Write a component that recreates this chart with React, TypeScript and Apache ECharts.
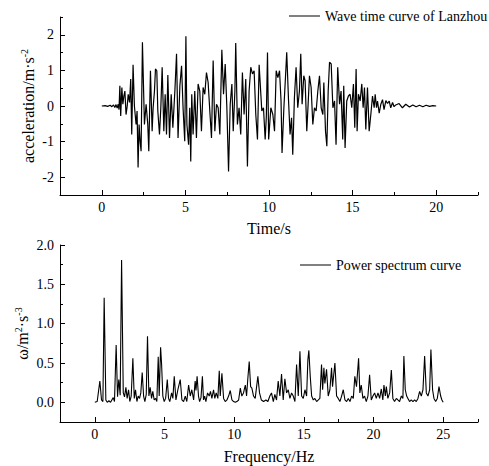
import React, { useEffect, useRef } from "react";
import * as echarts from "echarts";

// ---- Wave time curve (Lanzhou) ----
const waveTime = [
  0.0, 0.2, 0.35, 0.5, 0.6, 0.7, 0.78, 0.85, 0.92, 0.98, 1.03, 1.08, 1.13, 1.2, 1.26, 1.32, 1.38, 1.45, 1.52, 1.58,
  1.66, 1.73, 1.79, 1.87, 1.95, 2.05, 2.11, 2.17, 2.23, 2.29, 2.35, 2.43, 2.55, 2.65, 2.75, 2.81, 2.91, 3.01, 3.07, 3.15,
  3.21, 3.29, 3.35, 3.45, 3.53, 3.61, 3.71, 3.79, 3.87, 3.95, 4.05, 4.15, 4.25, 4.37, 4.47, 4.56, 4.67, 4.77, 4.86, 4.96,
  5.03, 5.09, 5.19, 5.26, 5.32, 5.38, 5.46, 5.56, 5.66, 5.76, 5.86, 5.96, 6.06, 6.16, 6.26, 6.36, 6.46, 6.56, 6.66, 6.76,
  6.86, 6.96, 7.06, 7.18, 7.28, 7.38, 7.48, 7.58, 7.68, 7.78, 7.86, 7.96, 8.01, 8.11, 8.21, 8.31, 8.41, 8.51, 8.61, 8.71,
  8.81, 8.91, 9.01, 9.11, 9.21, 9.31, 9.41, 9.57, 9.67, 9.77, 9.84, 9.91, 9.98, 10.11, 10.23, 10.33, 10.43, 10.53, 10.63, 10.72,
  10.78, 10.89, 10.99, 11.06, 11.17, 11.26, 11.35, 11.42, 11.52, 11.62, 11.72, 11.82, 11.9, 11.98, 12.08, 12.16, 12.26, 12.34, 12.42, 12.52,
  12.62, 12.72, 12.82, 12.92, 13.02, 13.12, 13.22, 13.28, 13.38, 13.46, 13.54, 13.62, 13.72, 13.82, 13.92, 14.01, 14.11, 14.22, 14.31, 14.41,
  14.47, 14.55, 14.65, 14.75, 14.85, 14.95, 15.05, 15.13, 15.21, 15.27, 15.35, 15.45, 15.55, 15.63, 15.71, 15.79, 15.89, 15.99, 16.09, 16.19,
  16.29, 16.35, 16.43, 16.49, 16.59, 16.69, 16.79, 16.88, 16.99, 17.09, 17.19, 17.28, 17.39, 17.48, 17.58, 17.78, 17.98, 18.18, 18.4, 18.6,
  18.8, 19.0, 19.2, 19.4, 19.6, 19.8, 20.0,
];
const waveAccel = [
  0, 0.01, -0.01, 0.02, -0.02, 0.03, -0.04, 0.04, -0.06, 0.05, -0.1, 0.57, -0.28, 0.52, 0.05, 0.28, 0.42, -0.24, 0.0, 0.33,
  0.1, 0.76, -0.8, 1.16, 0.0, -0.52, -0.14, -1.73, -0.52, -0.99, -1.27, 1.79, -0.52, 0.05, -0.52, -1.27, 0.99, -0.71, -0.05, 0.42,
  1.04, 0.99, -0.14, -0.8, -0.05, 1.09, -0.71, 0.33, -0.8, 0.87, -0.9, 0.33, -0.61, 0.42, 1.47, -0.9, 0.57, 1.13, -0.05, -0.99,
  1.96, -0.52, -1.09, -0.05, -1.56, 0.33, -0.8, 0.42, -0.9, 0.62, 0.42, -0.71, 0.52, 0.33, 0.94, 0.66, -0.14, -0.9, 1.28, -0.71,
  0.05, -0.05, -0.8, 1.58, 0.33, 1.18, -0.05, -1.84, 0.05, 0.62, -0.71, 0.42, 1.77, -0.52, -0.05, -0.8, 0.94, -0.24, 0.76, -1.7,
  0.42, 1.09, 0.9, 0.99, -0.24, -0.94, 1.16, -0.14, -0.05, -0.94, -0.3, 1.5, -0.94, -0.05, -0.24, -0.71, 0.99, 0.8, 0.99, 0.14,
  -1.32, -0.05, 0.85, 1.51, 0.14, -0.8, -0.33, -1.37, 0.24, 1.09, -0.05, 0.42, 1.47, 0.05, 0.85, 0.71, -0.71, 0.05, 0.85, 0.52,
  -0.52, -0.05, -0.14, 0.42, 0.85, -0.05, -0.24, 0.66, -0.71, -1.13, 0.42, 1.23, 1.18, -0.05, 0.14, -1.09, 1.09, 0.05, 0.42, -0.94,
  0.57, -1.18, 0.14, 0.28, 0.33, -0.05, 0.62, -0.61, 1.04, -0.71, 0.33, 0.14, 0.62, -0.05, 0.52, -0.66, 0.52, -0.71, -0.24, 0.28,
  -0.05, 0.33, -0.05, 0.14, -0.2, 0.05, 0.18, -0.1, 0.15, 0.07, 0.14, -0.05, 0.1, -0.02, 0.03, 0.07, -0.05, 0.05, -0.03, 0.03,
  -0.02, 0.02, -0.02, 0.02, -0.01, 0.01, 0,
];

// ---- Power spectrum curve ----
const freq = [
  0.0, 0.17, 0.36, 0.48, 0.58, 0.67, 0.79, 0.89, 1.01, 1.13, 1.22, 1.32, 1.41, 1.53, 1.63, 1.72, 1.82, 1.92, 2.04, 2.13,
  2.23, 2.32, 2.42, 2.51, 2.61, 2.73, 2.83, 2.92, 3.02, 3.11, 3.21, 3.3, 3.4, 3.5, 3.59, 3.69, 3.78, 3.88, 3.97, 4.07,
  4.16, 4.26, 4.36, 4.45, 4.55, 4.62, 4.72, 4.79, 4.88, 4.98, 5.08, 5.2, 5.29, 5.38, 5.51, 5.6, 5.7, 5.82, 5.96, 6.13,
  6.25, 6.37, 6.49, 6.6, 6.73, 6.85, 6.96, 7.09, 7.2, 7.26, 7.34, 7.44, 7.52, 7.62, 7.72, 7.8, 7.88, 7.97, 8.09, 8.21,
  8.3, 8.4, 8.52, 8.61, 8.71, 8.83, 8.93, 9.0, 9.12, 9.24, 9.36, 9.48, 9.6, 9.72, 9.84, 9.96, 10.08, 10.19, 10.32, 10.44,
  10.55, 10.67, 10.8, 10.89, 10.98, 11.08, 11.18, 11.27, 11.39, 11.51, 11.7, 11.82, 11.95, 12.11, 12.28, 12.42, 12.56, 12.68, 12.81, 12.92,
  13.04, 13.16, 13.28, 13.4, 13.52, 13.64, 13.76, 13.88, 14.0, 14.12, 14.24, 14.36, 14.48, 14.6, 14.72, 14.84, 14.96, 15.08, 15.2, 15.29,
  15.36, 15.46, 15.56, 15.68, 15.79, 15.92, 16.04, 16.15, 16.27, 16.35, 16.44, 16.51, 16.63, 16.75, 16.87, 16.99, 17.06, 17.23, 17.35, 17.47,
  17.59, 17.71, 17.83, 17.95, 18.07, 18.19, 18.31, 18.43, 18.55, 18.66, 18.78, 18.93, 19.02, 19.12, 19.24, 19.36, 19.48, 19.6, 19.72, 19.84,
  19.96, 20.08, 20.2, 20.32, 20.44, 20.56, 20.67, 20.75, 20.85, 20.92, 21.03, 21.16, 21.28, 21.39, 21.51, 21.64, 21.75, 21.87, 22.0, 22.11,
  22.18, 22.28, 22.38, 22.47, 22.59, 22.71, 22.83, 22.95, 23.07, 23.19, 23.31, 23.43, 23.55, 23.67, 23.79, 23.91, 24.03, 24.12, 24.24, 24.34,
  24.46, 24.58, 24.7, 24.82, 24.91, 25.0,
];
const power = [
  0.0, 0.01, 0.27, 0.03, 0.01, 1.33, 0.03, 0.0, 0.02, 0.0, 0.03, 0.06, 0.01, 0.73, 0.07, 0.29, 0.09, 1.81, 0.12, 0.07,
  0.19, 0.05, 0.16, 0.01, 0.08, 0.56, 0.05, 0.16, 0.01, 0.08, 0.05, 0.12, 0.38, 0.08, 0.01, 0.1, 0.84, 0.08, 0.19, 0.05,
  0.14, 0.03, 0.05, 0.01, 0.58, 0.08, 0.7, 0.49, 0.08, 0.01, 0.05, 0.29, 0.05, 0.01, 0.12, 0.05, 0.33, 0.03, 0.16, 0.29,
  0.03, 0.01, 0.08, 0.01, 0.22, 0.08, 0.16, 0.03, 0.27, 0.15, 0.33, 0.08, 0.01, 0.06, 0.33, 0.03, 0.08, 0.01, 0.12, 0.08,
  0.14, 0.05, 0.16, 0.05, 0.12, 0.05, 0.4, 0.08, 0.37, 0.05, 0.01, 0.03, 0.08, 0.15, 0.03, 0.01, 0.0, 0.01, 0.03, 0.18,
  0.08, 0.12, 0.22, 0.08, 0.3, 0.52, 0.2, 0.18, 0.08, 0.05, 0.33, 0.12, 0.03, 0.01, 0.03, 0.01, 0.08, 0.12, 0.01, 0.1,
  0.03, 0.27, 0.08, 0.36, 0.03, 0.3, 0.12, 0.16, 0.05, 0.12, 0.08, 0.01, 0.48, 0.08, 0.65, 0.08, 0.05, 0.16, 0.08, 0.54,
  0.66, 0.33, 0.08, 0.03, 0.05, 0.01, 0.03, 0.05, 0.48, 0.16, 0.44, 0.24, 0.42, 0.08, 0.16, 0.44, 0.2, 0.5, 0.08, 0.05,
  0.01, 0.08, 0.16, 0.03, 0.01, 0.05, 0.01, 0.08, 0.05, 0.33, 0.2, 0.56, 0.12, 0.22, 0.05, 0.08, 0.01, 0.08, 0.35, 0.03,
  0.08, 0.12, 0.05, 0.12, 0.05, 0.17, 0.03, 0.22, 0.08, 0.2, 0.05, 0.12, 0.41, 0.05, 0.01, 0.05, 0.03, 0.01, 0.08, 0.05,
  0.59, 0.16, 0.08, 0.05, 0.01, 0.03, 0.01, 0.03, 0.01, 0.05, 0.14, 0.08, 0.16, 0.59, 0.12, 0.08, 0.16, 0.67, 0.16, 0.05,
  0.01, 0.05, 0.2, 0.08, 0.03, 0.0,
];

// ---- Axis ticks ----
const topXMajor = [0, 5, 10, 15, 20];
const topXMinor = [2.5, 7.5, 12.5, 17.5, 22.5];
const topYMajor = [-2, -1, 0, 1, 2];
const topYMinor = [-2.5, -1.5, -0.5, 0.5, 1.5, 2.5];
const botXMajor = [0, 5, 10, 15, 20, 25];
const botXMinor = [2.5, 7.5, 12.5, 17.5, 22.5, 27.5];
const botYMajor = [0, 0.5, 1, 1.5, 2];
const botYMinor = [0.25, 0.75, 1.25, 1.75];

const FONT = "'Liberation Serif', 'Times New Roman', serif";

export default function App() {
  const ref = useRef<HTMLDivElement>(null);
  useEffect(() => {
    if (!ref.current) return;
    const chart = echarts.init(ref.current, undefined, { renderer: "svg" });
    const waveData = waveTime.map((t, i) => [t, waveAccel[i]]);
    const specData = freq.map((f, i) => [f, power[i]]);
    const axisLine = { show: true, onZero: false, lineStyle: { color: "#000", width: 1 } };
    const labelStyle = { color: "#000", fontFamily: FONT, fontSize: 14 };
    const nameStyle = {
      color: "#000",
      fontFamily: FONT,
      fontSize: 16,
      rich: {
        sup: { fontSize: 10, fontFamily: FONT, color: "#000", verticalAlign: "bottom", padding: [0, 0, 9, 0] },
      },
    };
    const majorAxis = (gridIndex: number, min: number, max: number, ticks: number[], extra: any) => ({
      type: "value",
      gridIndex,
      min,
      max,
      axisLine,
      nameMoveOverlap: false,
      splitLine: { show: false },
      axisTick: { show: true, inside: true, length: 5, customValues: ticks, lineStyle: { color: "#000" } },
      ...extra,
    });
    const minorAxis = (gridIndex: number, min: number, max: number, ticks: number[], position: string) => ({
      type: "value",
      gridIndex,
      min,
      max,
      position,
      axisLine: { show: false, onZero: false },
      splitLine: { show: false },
      axisTick: { show: true, inside: true, length: 3, customValues: ticks, lineStyle: { color: "#000" } },
      axisLabel: { show: false },
    });
    chart.setOption({
      animation: false,
      backgroundColor: "#fff",
      legend: [
        {
          left: 289,
          top: 9,
          padding: 0,
          itemWidth: 31,
          itemHeight: 1,
          icon: "rect",
          data: ["Wave time curve of Lanzhou"],
          textStyle: { color: "#000", fontFamily: FONT, fontSize: 14 },
        },
        {
          left: 300,
          top: 258,
          padding: 0,
          itemWidth: 31,
          itemHeight: 1,
          icon: "rect",
          data: ["Power spectrum curve"],
          textStyle: { color: "#000", fontFamily: FONT, fontSize: 14 },
        },
      ],
      grid: [
        { left: 60, top: 17, width: 418, height: 178 },
        { left: 60, top: 245, width: 418, height: 177 },
      ],
      xAxis: [
        majorAxis(0, -2.5, 22.5, topXMajor, {
          position: "bottom",
          name: "Time/s",
          nameLocation: "middle",
          nameGap: 25,
          nameTextStyle: nameStyle,
          axisLabel: { show: true, customValues: topXMajor, margin: 5, ...labelStyle },
        }),
        minorAxis(0, -2.5, 22.5, topXMinor, "bottom"),
        majorAxis(1, -2.5, 27.5, botXMajor, {
          position: "bottom",
          name: "Frequency/Hz",
          nameLocation: "middle",
          nameGap: 26,
          nameTextStyle: nameStyle,
          axisLabel: { show: true, customValues: botXMajor, margin: 5, ...labelStyle },
        }),
        minorAxis(1, -2.5, 27.5, botXMinor, "bottom"),
      ],
      yAxis: [
        majorAxis(0, -2.5, 2.5, topYMajor, {
          position: "left",
          name: "acceleration/m·s{sup|-2}",
          nameLocation: "middle",
          nameGap: 22,
          nameTextStyle: nameStyle,
          axisLabel: { show: true, customValues: topYMajor, margin: 6, ...labelStyle },
        }),
        minorAxis(0, -2.5, 2.5, topYMinor, "left"),
        majorAxis(1, -0.25, 2.0, botYMajor, {
          position: "left",
          name: "ω/m{sup|2}·s{sup|-3}",
          nameLocation: "middle",
          nameGap: 28,
          nameTextStyle: nameStyle,
          axisLabel: {
            show: true,
            customValues: botYMajor,
            margin: 6,
            formatter: (v: number) => v.toFixed(1),
            ...labelStyle,
          },
        }),
        minorAxis(1, -0.25, 2.0, botYMinor, "left"),
      ],
      series: [
        {
          name: "Wave time curve of Lanzhou",
          type: "line",
          xAxisIndex: 0,
          yAxisIndex: 0,
          data: waveData,
          showSymbol: false,
          symbol: "none",
          color: "#000",
          lineStyle: { color: "#000", width: 1.2 },
        },
        {
          name: "Power spectrum curve",
          type: "line",
          xAxisIndex: 2,
          yAxisIndex: 2,
          data: specData,
          showSymbol: false,
          symbol: "none",
          color: "#000",
          lineStyle: { color: "#000", width: 1.1 },
        },
      ],
    });
    return () => chart.dispose();
  }, []);
  return (
    <div
      ref={ref}
      style={{ position: "fixed", left: 0, top: 0, width: 489, height: 466, background: "#fff" }}
    />
  );
}
